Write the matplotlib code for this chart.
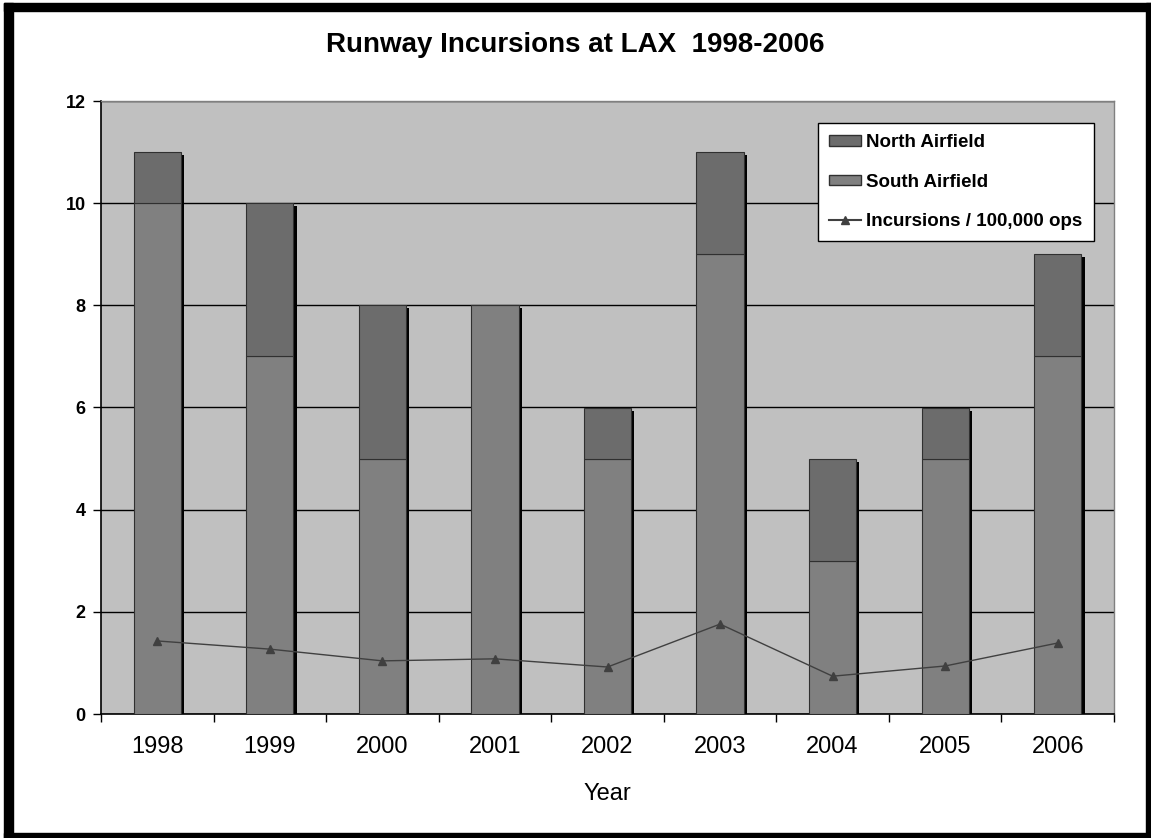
import matplotlib
matplotlib.use("Agg")
import matplotlib.pyplot as plt
import matplotlib.patches as mpatches
from matplotlib.lines import Line2D
import numpy as np

plt.rcParams['font.family'] = ['Liberation Sans', 'DejaVu Sans']

years = ['1998', '1999', '2000', '2001', '2002', '2003', '2004', '2005', '2006']
south = [10, 7, 5, 8, 5, 9, 3, 5, 7]
north = [1, 3, 3, 0, 1, 2, 2, 1, 2]
rate = [1.43, 1.27, 1.04, 1.08, 0.92, 1.76, 0.74, 0.94, 1.39]
yticks = [0, 2, 4, 6, 8, 10, 12]

fig = plt.figure(figsize=(11.51, 8.38), dpi=100)
W, H = 1151, 838

# outer black frame
for (x0, y0, w, h) in [(4, 3, 9, 835), (4, 3, 1147, 8), (1146, 3, 5, 835), (4, 833, 1147, 5)]:
    fig.patches.append(mpatches.Rectangle((x0 / W, 1 - (y0 + h) / H), w / W, h / H,
                                          transform=fig.transFigure, color='black', zorder=10))

ax = fig.add_axes([101 / W, 1 - 714 / H, (1114 - 101) / W, (714 - 101) / H])
ax.set_facecolor('#c0c0c0')

x = np.arange(len(years))
bw = 0.42
totals = [s + n for s, n in zip(south, north)]

# shadows
ax.bar(x + 0.028, totals, bw, bottom=-0.06, color='black', zorder=2)
ax.bar(x, south, bw, color='#808080', edgecolor='#303030', linewidth=0.8, zorder=3,
       label='South Airfield')
ax.bar(x, north, bw, bottom=south, color='#6c6c6c', edgecolor='#303030', linewidth=0.8,
       zorder=3, label='North Airfield')
ax.plot(x, rate, color='#404040', linewidth=1.0, marker='^', markersize=6, zorder=4,
        label='Incursions / 100,000 ops')

ax.set_ylim(0, 12)
ax.set_xlim(-0.5, len(years) - 0.5)
ax.set_yticks(yticks)
ax.set_yticklabels([str(v) for v in yticks], fontsize=13, fontweight='bold')
ax.yaxis.grid(True, color='black', linewidth=1.0, zorder=1)
ax.set_axisbelow(True)

ax.set_xticks(x)
ax.set_xticklabels(years, fontsize=17)
ax.set_xticks(np.arange(-0.5, len(years)), minor=True)
ax.tick_params(axis='x', which='major', length=0, pad=16)
ax.tick_params(axis='x', which='minor', length=6, width=1, color='black')
ax.tick_params(axis='y', length=6, width=1, color='black', pad=5)

for s in ['left', 'bottom']:
    ax.spines[s].set_color('black')
    ax.spines[s].set_linewidth(1.2)
for s in ['top', 'right']:
    ax.spines[s].set_color('#808080')
    ax.spines[s].set_linewidth(1.0)

ax.set_xlabel('Year', fontsize=17, labelpad=18)

fig.text(0.5, 1 - 45 / H, 'Runway Incursions at LAX  1998-2006', ha='center', va='center',
         fontsize=20, fontweight='bold')

handles = [mpatches.Patch(facecolor='#6c6c6c', edgecolor='#303030', label='North Airfield'),
           mpatches.Patch(facecolor='#808080', edgecolor='#303030', label='South Airfield'),
           Line2D([0], [0], color='#404040', marker='^', markersize=6, label='Incursions / 100,000 ops')]
leg = ax.legend(handles=handles, loc='upper right', bbox_to_anchor=((1094 - 101) / (1114 - 101), (714 - 123) / (714 - 101)),
                prop={'weight': 'bold', 'size': 13.5}, frameon=True, fancybox=False,
                edgecolor='black', framealpha=1, handlelength=1.7, handleheight=0.5,
                handletextpad=0.3, labelspacing=1.2, borderpad=0.6, borderaxespad=0)
leg.get_frame().set_linewidth(1.0)
leg.set_zorder(6)

fig.savefig('out.png', dpi=100, facecolor='white')
